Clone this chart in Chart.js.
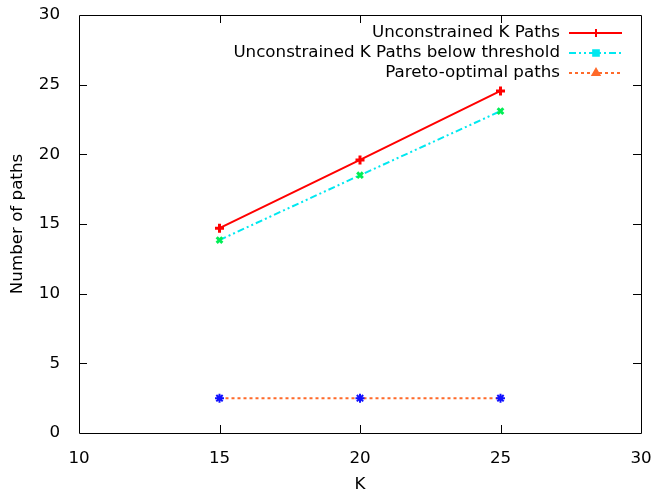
<!DOCTYPE html>
<html>
<head>
<meta charset="utf-8">
<script src="https://cdn.jsdelivr.net/npm/chart.js@4"></script>
<style>
  html, body { margin: 0; padding: 0; background: #fff; font-family: "DejaVu Sans", sans-serif; }
  #wrap { width: 655px; height: 493px; }
</style>
</head>
<body>
<div id="wrap"><canvas id="c"></canvas></div>
<script>
// ── Data ─────────────────────────────────────────────────────
const kValues       = [15, 20, 25];
const unconstrained = [14.7, 19.6, 24.55];
const belowThresh   = [13.85, 18.5, 23.1];
const paretoPaths   = [2.5, 2.5, 2.5];
const xTicks = [10, 15, 20, 25, 30];
const yTicks = [0, 5, 10, 15, 20, 25, 30];

const FONT = "DejaVu Sans";
const FSIZE = 16.7;

function pts(ys) { return kValues.map((k, i) => ({ x: k, y: ys[i] })); }

// ── Box frame with inward ticks (gnuplot style) ──────────────
const framePlugin = {
    id: "frame",
    afterDatasetsDraw(chart) {
        const { ctx, chartArea: a, scales } = chart;
        const t = 8;
        ctx.save();
        ctx.strokeStyle = "#000";
        ctx.lineWidth = 1;
        ctx.beginPath();
        ctx.rect(Math.round(a.left) + 0.5, Math.round(a.top) + 0.5,
                 Math.round(a.right - a.left), Math.round(a.bottom - a.top));
        xTicks.slice(1, -1).forEach(v => {
            const px = Math.round(scales.x.getPixelForValue(v)) + 0.5;
            ctx.moveTo(px, a.bottom); ctx.lineTo(px, a.bottom - t);
            ctx.moveTo(px, a.top);    ctx.lineTo(px, a.top + t);
        });
        yTicks.slice(1, -1).forEach(v => {
            const py = Math.round(scales.y.getPixelForValue(v)) + 0.5;
            ctx.moveTo(a.left, py);  ctx.lineTo(a.left + t, py);
            ctx.moveTo(a.right, py); ctx.lineTo(a.right - t, py);
        });
        ctx.stroke();
        ctx.restore();
    }
};

// ── Legend: text right-aligned, sample line to the right ─────
const keyPlugin = {
    id: "key",
    afterDraw(chart) {
        const ctx = chart.ctx;
        chart.data.datasets.forEach((ds, i) => {
            const y = 33 + i * 20;
            ctx.save();
            ctx.font = FSIZE + 'px "' + FONT + '"';
            ctx.fillStyle = "#000";
            ctx.textAlign = "right";
            ctx.textBaseline = "middle";
            ctx.fillText(ds.label, 560, y);
            ctx.strokeStyle = ds.borderColor;
            ctx.lineWidth = ds.borderWidth;
            ctx.setLineDash(ds.borderDash || []);
            ctx.beginPath();
            ctx.moveTo(569, y); ctx.lineTo(622, y);
            ctx.stroke();
            ctx.setLineDash([]);
            ctx.fillStyle = ds.keyColor;
            ctx.strokeStyle = ds.keyColor;
            Chart.helpers.drawPoint(ctx, {
                pointStyle: ds.keyStyle, radius: 4, rotation: 0, borderWidth: 2
            }, 596, y);
            ctx.restore();
        });
    }
};

new Chart(document.getElementById("c"), {
    type: "line",
    data: {
        datasets: [
            {
                label: "Unconstrained K Paths",
                data: pts(unconstrained),
                borderColor: "#ff0000",
                borderWidth: 2,
                pointStyle: "cross",
                pointRadius: 4.5,
                pointBorderWidth: 3,
                pointBorderColor: "#ff0000",
                pointBackgroundColor: "#ff0000",
                keyStyle: "cross",
                keyColor: "#ff0000"
            },
            {
                label: "Unconstrained K Paths below threshold",
                data: pts(belowThresh),
                borderColor: "#00e8f0",
                borderWidth: 2,
                borderDash: [7, 3, 2, 3, 2, 3],
                pointStyle: "crossRot",
                pointRadius: 4,
                pointBorderWidth: 3,
                pointBorderColor: "#00ee55",
                pointBackgroundColor: "#00ee55",
                keyStyle: "rect",
                keyColor: "#00e8f0"
            },
            {
                label: "Pareto-optimal paths",
                data: pts(paretoPaths),
                borderColor: "#ff6a2a",
                borderWidth: 2,
                borderDash: [3, 3],
                pointStyle: "star",
                pointRadius: 4.5,
                pointBorderWidth: 2,
                pointBorderColor: "#1010ff",
                pointBackgroundColor: "#1010ff",
                keyStyle: "triangle",
                keyColor: "#ff6a2a"
            }
        ]
    },
    options: {
        responsive: true,
        maintainAspectRatio: false,
        animation: false,
        layout: { padding: { top: 15, right: 14, left: 8, bottom: 0 } },
        plugins: { legend: { display: false }, tooltip: { enabled: false } },
        scales: {
            x: {
                type: "linear",
                min: 10, max: 30,
                afterBuildTicks: s => { s.ticks = xTicks.map(v => ({ value: v })); },
                afterFit: s => { s.height = 60; s.paddingLeft = 0; s.paddingRight = 0; },
                grid: { display: false },
                border: { display: false },
                ticks: { color: "#000", font: { family: FONT, size: FSIZE }, padding: 8, maxRotation: 0 },
                title: { display: true, text: "K", color: "#000", font: { family: FONT, size: FSIZE }, padding: { top: 0, bottom: -2 } }
            },
            y: {
                min: 0, max: 30,
                afterBuildTicks: s => { s.ticks = yTicks.map(v => ({ value: v })); },
                afterFit: s => { s.width = 71; s.paddingTop = 0; s.paddingBottom = 0; },
                grid: { display: false },
                border: { display: false },
                ticks: { color: "#000", font: { family: FONT, size: FSIZE }, padding: 11 },
                title: { display: true, text: "Number of paths", color: "#000", font: { family: FONT, size: FSIZE }, padding: { top: 0, bottom: 0 } }
            }
        }
    },
    plugins: [framePlugin, keyPlugin]
});
</script>
</body>
</html>
